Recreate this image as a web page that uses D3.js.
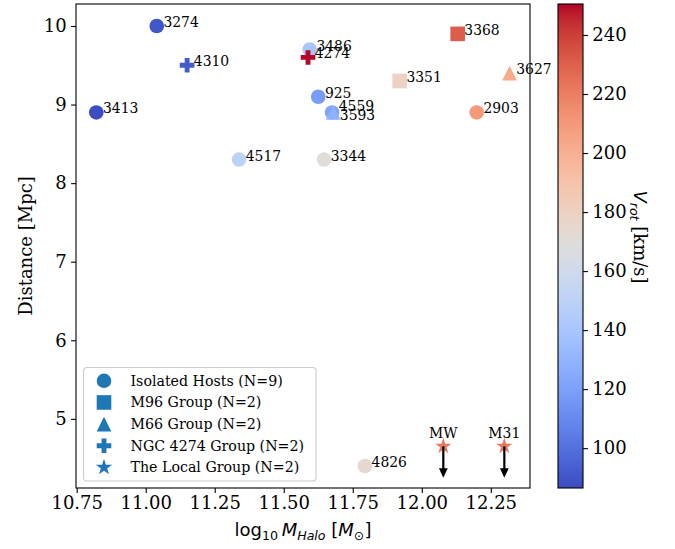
<!DOCTYPE html>
<html>
<head>
<meta charset="utf-8">
<script src="https://cdn.jsdelivr.net/npm/d3@7"></script>
<style>
  html, body { margin: 0; padding: 0; background: #fff; }
  svg { display: block; }
</style>
</head>
<body>
<svg id="chart" width="675" height="549"></svg>
<script>
// ---- Host galaxies: halo mass vs. distance, coloured by rotation velocity ----
const hostNames   = ["3274", "3413", "3486", "925", "4559", "4517", "3344", "2903", "4826",
                     "3368", "3351", "3627", "3593", "4310", "4274", "MW", "M31"];
const hostGroups  = ["isolated", "isolated", "isolated", "isolated", "isolated", "isolated", "isolated", "isolated", "isolated",
                     "m96", "m96", "m66", "m66", "ngc4274", "ngc4274", "local", "local"];
const logMHalo    = [11.04, 10.821, 11.594, 11.625, 11.675, 11.338, 11.646, 12.199, 11.794,
                     12.13, 11.92, 12.318, 11.679, 11.15, 11.588, 12.078, 12.299];
const distanceMpc = [10.0, 8.9, 9.7, 9.1, 8.9, 8.3, 8.3, 8.9, 4.4,
                     9.9, 9.3, 9.4, 8.9, 9.5, 9.6, 4.65, 4.65];
const vRot        = [90, 87, 140, 118, 122, 150, 170, 210, 174,
                     231, 180, 202, 128, 92, 250, 222, 222];

// Local Group distances are upper limits (drawn as downward arrows)
const upperLimitHosts = ["MW", "M31"];
const upperLimitLength = 0.4;

// Legend entries
const groupKeys   = ["isolated", "m96", "m66", "ngc4274", "local"];
const groupLabels = ["Isolated Hosts (N=9)", "M96 Group (N=2)", "M66 Group (N=2)",
                     "NGC 4274 Group (N=2)", "The Local Group (N=2)"];
const groupShapes = ["circle", "square", "triangle", "plus", "star"];

// Axis ticks
const xTicks = [10.75, 11.00, 11.25, 11.50, 11.75, 12.00, 12.25];
const yTicks = [5, 6, 7, 8, 9, 10];
const cbarTicks = [100, 120, 140, 160, 180, 200, 220, 240];

// Axis ranges
const xDomain = [10.7475, 12.392];
const yDomain = [4.12, 10.28];
const vDomain = [86.5, 250.5];

// matplotlib "coolwarm" (Moreland diverging map, 33 control points)
const coolwarmStops = [
  [59,76,192],[68,90,204],[77,104,215],[87,117,225],[98,130,234],[108,142,241],
  [119,154,247],[130,165,251],[141,176,254],[152,185,255],[163,194,255],[174,201,253],
  [184,208,249],[194,213,244],[204,217,238],[213,219,230],[221,221,221],[229,216,209],
  [236,211,197],[241,204,184],[245,196,173],[247,187,160],[247,177,148],[247,166,135],
  [244,154,123],[241,141,111],[236,127,99],[229,112,88],[222,96,77],[213,80,66],
  [203,62,56],[192,40,47],[180,4,38]
].map(c => d3.rgb(c[0], c[1], c[2]).formatHex());

const coolwarm = d3.scaleLinear()
  .domain(coolwarmStops.map((_, i) => i / (coolwarmStops.length - 1)))
  .range(coolwarmStops)
  .interpolate(d3.interpolateRgb)
  .clamp(true);

const vNorm = d3.scaleLinear().domain(vDomain).range([0, 1]).clamp(true);
const colorFor = v => coolwarm(vNorm(v));

// ---- layout ----
const plot = { left: 76, right: 530, top: 4, bottom: 488 };
const cbar = { left: 558, right: 583, top: 4, bottom: 488 };

const serif = "'DejaVu Serif', 'Liberation Serif', serif";
const sans  = "'DejaVu Sans', 'Liberation Sans', sans-serif";

const svg = d3.select("#chart");

const x = d3.scaleLinear().domain(xDomain).range([plot.left, plot.right]);
const y = d3.scaleLinear().domain(yDomain).range([plot.bottom, plot.top]);

// ---- marker paths (size = full marker width in px) ----
const markerSize = 14.6;
function markerPath(shape, s) {
  const h = s / 2;
  switch (shape) {
    case "circle": {
      const p = d3.path(); p.arc(0, 0, h, 0, 2 * Math.PI); p.closePath(); return p.toString();
    }
    case "square":
      return `M${-h},${-h}H${h}V${h}H${-h}Z`;
    case "triangle":
      return `M0,${-h}L${h},${h}L${-h},${h}Z`;
    case "plus": {
      const a = s / 6;
      return `M${-a},${-h}H${a}V${-a}H${h}V${a}H${a}V${h}H${-a}V${a}H${-h}V${-a}H${-a}Z`;
    }
    case "star": {
      const R = h * 1.17, r = R * 0.381966;
      const pts = [];
      for (let i = 0; i < 10; i++) {
        const ang = -Math.PI / 2 + i * Math.PI / 5;
        const rad = i % 2 === 0 ? R : r;
        pts.push([rad * Math.cos(ang), rad * Math.sin(ang)]);
      }
      return "M" + pts.map(p => p.join(",")).join("L") + "Z";
    }
  }
}
const shapeOf = g => groupShapes[groupKeys.indexOf(g)];

// ---- point data table ----
const hosts = hostNames.map((name, i) => ({
  name, group: hostGroups[i], m: logMHalo[i], d: distanceMpc[i], v: vRot[i]
}));

// ---- axes frame & ticks ----
const axisG = svg.append("g");

// x ticks
const xAxis = d3.axisBottom(x).tickValues(xTicks).tickFormat(d3.format(".2f"))
  .tickSizeOuter(0).tickSize(4.9).tickPadding(3.6);
axisG.append("g").attr("transform", `translate(0,${plot.bottom})`).call(xAxis)
  .call(g => g.select(".domain").remove())
  .call(g => g.selectAll("line").attr("stroke", "#000").attr("stroke-width", 1.1))
  .call(g => g.selectAll("text").attr("font-family", serif).attr("font-size", 18).attr("fill", "#000"));

// y ticks
const yAxis = d3.axisLeft(y).tickValues(yTicks).tickFormat(d3.format("d"))
  .tickSizeOuter(0).tickSize(4.9).tickPadding(4.4);
axisG.append("g").attr("transform", `translate(${plot.left},0)`).call(yAxis)
  .call(g => g.select(".domain").remove())
  .call(g => g.selectAll("line").attr("stroke", "#000").attr("stroke-width", 1.1))
  .call(g => g.selectAll("text").attr("font-family", serif).attr("font-size", 18).attr("fill", "#000"));

// ---- scatter markers ----
const drawOrder = ["isolated", "m96", "m66", "ngc4274", "local"];
const ptsG = svg.append("g");
drawOrder.forEach(gk => {
  const sel = hosts.filter(h => h.group === gk);
  ptsG.selectAll(null).data(sel).enter().append("path")
    .attr("d", h => markerPath(shapeOf(h.group), markerSize))
    .attr("transform", h => `translate(${x(h.m)},${y(h.d)})`)
    .attr("fill", h => colorFor(h.v));
});

// upper-limit arrows for the Local Group
const arrowG = svg.append("g");
hosts.filter(h => upperLimitHosts.includes(h.name)).forEach(h => {
  const cx = x(h.m), y0 = y(h.d), y1 = y(h.d - upperLimitLength);
  arrowG.append("line")
    .attr("x1", cx).attr("x2", cx).attr("y1", y0).attr("y2", y1 - 4)
    .attr("stroke", "#000").attr("stroke-width", 2.2);
  arrowG.append("path")
    .attr("d", `M${cx - 4.4},${y1 - 9.5}L${cx + 4.4},${y1 - 9.5}L${cx},${y1}Z`)
    .attr("fill", "#000");
});

// ---- point labels ----
const labelNudge = { "4559": -2.5, "3593": 7 };
const lblG = svg.append("g").attr("font-family", serif).attr("font-size", 13.9).attr("fill", "#000");
hosts.forEach(h => {
  if (upperLimitHosts.includes(h.name)) {
    lblG.append("text")
      .attr("x", x(h.m)).attr("y", y(h.d) - 8)
      .attr("text-anchor", "middle")
      .text(h.name);
  } else {
    lblG.append("text")
      .attr("x", x(h.m) + 6.7).attr("y", y(h.d) + 1 + (labelNudge[h.name] || 0))
      .text(h.name);
  }
});

// ---- plot frame ----
svg.append("rect")
  .attr("x", plot.left).attr("y", plot.top)
  .attr("width", plot.right - plot.left).attr("height", plot.bottom - plot.top)
  .attr("fill", "none").attr("stroke", "#000").attr("stroke-width", 1.1);

// ---- legend ----
const leg = svg.append("g");
leg.append("rect")
  .attr("x", 83.5).attr("y", 367.5).attr("width", 232.5).attr("height", 113.5)
  .attr("rx", 3.5).attr("ry", 3.5)
  .attr("fill", "#fff").attr("fill-opacity", 0.8)
  .attr("stroke", "#cccccc").attr("stroke-width", 1.1);
groupKeys.forEach((gk, i) => {
  const cy = 380.8 + i * 21.65;
  leg.append("path")
    .attr("d", markerPath(groupShapes[i], markerSize))
    .attr("transform", `translate(104,${cy})`)
    .attr("fill", "#1f77b4");
  leg.append("text")
    .attr("x", 130.5).attr("y", cy + 5)
    .attr("font-family", serif).attr("font-size", 14.2).attr("fill", "#000")
    .text(groupLabels[i]);
});

// ---- axis labels ----
const xl = svg.append("text")
  .attr("x", (plot.left + plot.right) / 2).attr("y", 536)
  .attr("text-anchor", "middle")
  .attr("font-family", sans).attr("font-size", 18).attr("fill", "#000");
xl.append("tspan").text("log");
xl.append("tspan").attr("font-size", 12.6).attr("dy", 3.8).text("10");
xl.append("tspan").attr("dy", -3.8).text("\u2009");
xl.append("tspan").attr("font-style", "italic").text("M");
xl.append("tspan").attr("font-style", "italic").attr("font-size", 12.6).attr("dy", 3.8).text("Halo");
xl.append("tspan").attr("dy", -3.8).text(" [");
xl.append("tspan").attr("font-style", "italic").text("M");
xl.append("tspan").attr("font-size", 12.6).attr("dy", 3.8).text("\u2299");
xl.append("tspan").attr("dy", -3.8).text("]");

svg.append("text")
  .attr("transform", `translate(31.5,${(plot.top + plot.bottom) / 2}) rotate(-90)`)
  .attr("text-anchor", "middle")
  .attr("font-family", serif).attr("font-size", 18).attr("fill", "#000")
  .text("Distance [Mpc]");

// ---- colorbar ----
const defs = svg.append("defs");
const grad = defs.append("linearGradient")
  .attr("id", "vrot-grad").attr("x1", 0).attr("y1", 1).attr("x2", 0).attr("y2", 0);
coolwarmStops.forEach((c, i) => {
  grad.append("stop").attr("offset", i / (coolwarmStops.length - 1)).attr("stop-color", c);
});
svg.append("rect")
  .attr("x", cbar.left).attr("y", cbar.top)
  .attr("width", cbar.right - cbar.left).attr("height", cbar.bottom - cbar.top)
  .attr("fill", "url(#vrot-grad)");

const cy = d3.scaleLinear().domain(vDomain).range([cbar.bottom, cbar.top]);
const cAxis = d3.axisRight(cy).tickValues(cbarTicks).tickFormat(d3.format("d"))
  .tickSizeOuter(0).tickSize(4.9).tickPadding(4.4);
svg.append("g").attr("transform", `translate(${cbar.right},0)`).call(cAxis)
  .call(g => g.select(".domain").remove())
  .call(g => g.selectAll("line").attr("stroke", "#000").attr("stroke-width", 1.1))
  .call(g => g.selectAll("text").attr("font-family", serif).attr("font-size", 18).attr("fill", "#000"));

svg.append("rect")
  .attr("x", cbar.left).attr("y", cbar.top)
  .attr("width", cbar.right - cbar.left).attr("height", cbar.bottom - cbar.top)
  .attr("fill", "none").attr("stroke", "#000").attr("stroke-width", 1.1);

// colorbar label: V_rot [km/s]
const cl = svg.append("text")
  .attr("transform", `translate(634,237) rotate(90)`)
  .attr("text-anchor", "middle")
  .attr("font-size", 18).attr("fill", "#000");
cl.append("tspan").attr("font-family", sans).attr("font-style", "italic").text("V");
cl.append("tspan").attr("font-family", sans).attr("font-style", "italic").attr("font-size", 12.6).attr("dy", 3.8).text("rot");
cl.append("tspan").attr("font-family", serif).attr("dy", -3.8).text(" [km/s]");
</script>
</body>
</html>
